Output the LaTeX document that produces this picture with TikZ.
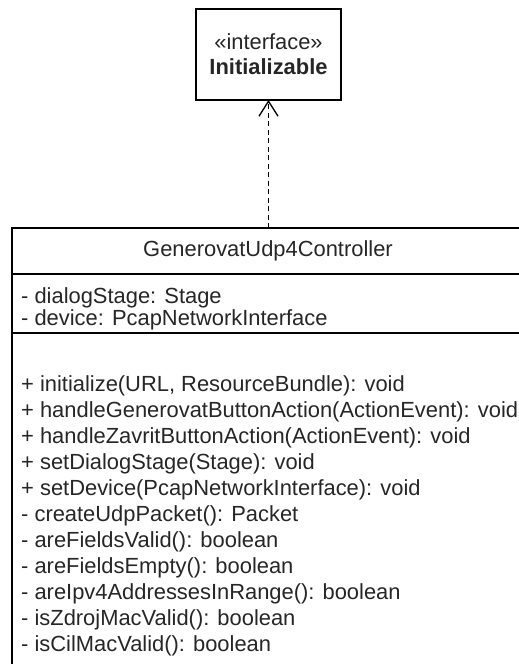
\documentclass[tikz,border=0pt]{standalone}
\usepackage{fontspec}
\setmainfont{Liberation Sans}
\usetikzlibrary{positioning,arrows.meta}

\begin{document}
\begin{tikzpicture}[x=1pt,y=1pt,>={Straight Barb[length=15pt,width=19pt]},line width=1.4pt,
  uml box/.style={draw,rectangle,inner sep=0pt,outer sep=0pt,font=\fontsize{21.9}{25}\selectfont,text=black!85},
  member/.style={inner sep=0pt,text height=18pt,text depth=6.6pt,font=\fontsize{21.9}{25}\selectfont,text=black!85},
  attribute/.style={member,text depth=3pt},
  row below/.style={below=0pt of #1.south west,anchor=north west},
  realizes/.style={->,dash pattern=on 5pt off 3.5pt,line width=1.3pt}]
  \useasboundingbox (0,0) rectangle (519,-664);

  % interface
  \node[uml box,minimum width=145,minimum height=91,align=center] (iface) at (268.5,-54.5)
    {«interface»\\\textbf{Initializable}};

  % class: name, attributes, operations
  \node[uml box,minimum width=512,minimum height=46] (ctrl) at (268,-251) {GenerovatUdp4Controller};
  \node[uml box,minimum width=512,minimum height=59] (attrs) [below=0pt of ctrl] {};
  \node[uml box,minimum width=512,minimum height=360] (ops) [below=0pt of attrs] {};

  \node[attribute,anchor=north west] (a1) at (20.5,-284.5) {- dialogStage: Stage};
  \node[attribute] (a2) [row below=a1] {- device: PcapNetworkInterface};

  \node[member,anchor=north west] (m1) at (20.5,-372.5) {+ initialize(URL, ResourceBundle): void};
  \node[member] (m2) [row below=m1] {+ handleGenerovatButtonAction(ActionEvent): void};
  \node[member] (m3) [row below=m2] {+ handleZavritButtonAction(ActionEvent): void};
  \node[member] (m4) [row below=m3] {+ setDialogStage(Stage): void};
  \node[member] (m5) [row below=m4] {+ setDevice(PcapNetworkInterface): void};
  \node[member] (m6) [row below=m5] {- createUdpPacket(): Packet};
  \node[member] (m7) [row below=m6] {- areFieldsValid(): boolean};
  \node[member] (m8) [row below=m7] {- areFieldsEmpty(): boolean};
  \node[member] (m9) [row below=m8] {- areIpv4AddressesInRange(): boolean};
  \node[member] (m10) [row below=m9] {- isZdrojMacValid(): boolean};
  \node[member] (m11) [row below=m10] {- isCilMacValid(): boolean};

  \draw[realizes] (ctrl.north -| iface.south) -- (iface.south);
\end{tikzpicture}
\end{document}
